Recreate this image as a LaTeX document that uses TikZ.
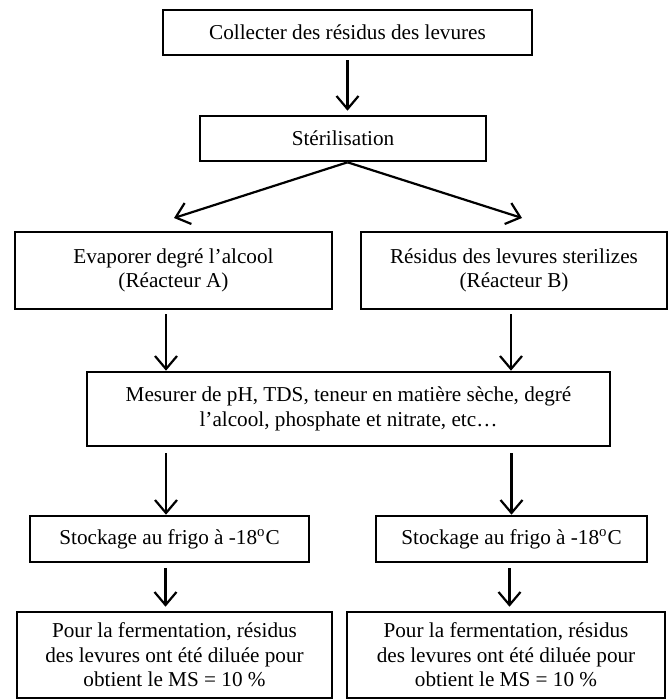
\documentclass[tikz,border=0pt]{standalone}
\usepackage{fontspec}
\setmainfont{Liberation Serif}
\usetikzlibrary{arrows.meta,calc}

\tikzset{
  boite/.style={draw, line width=1.3pt, align=center, inner sep=0pt,
    font=\fontsize{10.6}{12.3}\selectfont},
  fleche/.style={-{Straight Barb[length=6.5pt,width=11pt]}, line width=1.1pt},
}

\begin{document}
\begin{tikzpicture}[x=0.5pt,y=-0.5pt]
  \useasboundingbox (0,0) rectangle (672,700);
  % boites
  \node[boite,minimum width=184.5pt,minimum height=22.5pt] (collect) at (347.5,32.5)
    {Collecter des résidus des levures};
  \node[boite,minimum width=143pt,minimum height=22.5pt] (steril) at (343,138.5)
    {Stérilisation};
  \node[boite,minimum width=158.5pt,minimum height=38.5pt] (evap) at (173.5,270.5)
    {Evaporer degré l’alcool\\(Réacteur A)};
  \node[boite,minimum width=153pt,minimum height=38.5pt] (resB) at (514,270.5)
    {Résidus des levures sterilizes\\(Réacteur B)};
  \node[boite,minimum width=261.5pt,minimum height=37pt] (mesurer) at (348.5,409)
    {Mesurer de pH, TDS, teneur en matière sèche, degré\\l’alcool, phosphate et nitrate, etc…};
  \node[boite,minimum width=139.5pt,minimum height=23pt] (stockA) at (169.5,539)
    {Stockage au frigo à -18\textsuperscript{o}C};
  \node[boite,minimum width=135.5pt,minimum height=23pt] (stockB) at (511.5,539)
    {Stockage au frigo à -18\textsuperscript{o}C};
  \node[boite,minimum width=157.5pt,minimum height=43pt] (fermA) at (174.5,655)
    {Pour la fermentation, résidus\\des levures ont été diluée pour\\obtient le MS = 10 \%};
  \node[boite,minimum width=159pt,minimum height=43pt] (fermB) at (506,655)
    {Pour la fermentation, résidus\\des levures ont été diluée pour\\obtient le MS = 10 \%};
  % fleches
  \coordinate (depart) at (collect.south |- steril.south);
  \coordinate (pointeA) at (174,218);
  \coordinate (pointeB) at (522,218);
  \draw[fleche] ($(collect.south)+(0,4)$) -- ($(collect.south |- steril.north)+(0,-4)$);
  \draw[fleche] (depart) -- (pointeA);
  \draw[fleche] (depart) -- (pointeB);
  \draw[fleche] ($(evap.south)+(-7.5,4)$) -- ($(evap.south |- mesurer.north)+(-7.5,0)$);
  \draw[fleche] ($(resB.south)+(-3,4)$) -- ($(resB.south |- mesurer.north)+(-3,0)$);
  \draw[fleche] ($(stockA.north |- mesurer.south)+(-3.5,6)$) -- ($(stockA.north)+(-3.5,0)$);
  \draw[fleche] ($(stockB.north |- mesurer.south)+(0,6)$) -- (stockB.north);
  \draw[fleche] ($(stockA.south)+(-4,5)$) -- ($(stockA.south |- fermA.north)+(-4,-4)$);
  \draw[fleche] ($(stockB.south)+(-2,5)$) -- ($(stockB.south |- fermB.north)+(-2,-4)$);
\end{tikzpicture}
\end{document}
